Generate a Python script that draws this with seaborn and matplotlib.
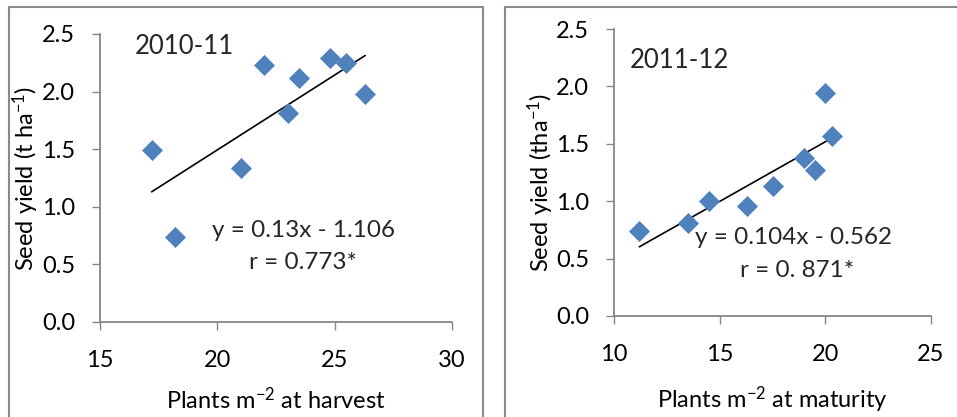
import matplotlib
matplotlib.use("Agg")
import matplotlib.pyplot as plt
from matplotlib.lines import Line2D
import numpy as np
import pandas as pd
import seaborn as sns

# ---- data ----
x_2010 = [17.2, 18.2, 21.0, 22.0, 23.0, 23.5, 24.8, 25.5, 26.3]
y_2010 = [1.49, 0.74, 1.34, 2.23, 1.81, 2.12, 2.29, 2.25, 1.98]
x_2011 = [11.2, 13.5, 14.5, 16.3, 17.5, 19.0, 19.5, 20.0, 20.3]
y_2011 = [0.74, 0.81, 1.00, 0.96, 1.13, 1.38, 1.27, 1.94, 1.57]
slopes = [0.13, 0.104]
intercepts = [-1.106, -0.562]
titles = ["2010-11", "2011-12"]
eq_texts = ["y = 0.13x - 1.106", "y = 0.104x - 0.562"]
r_texts = ["r = 0.773*", "r = 0. 871*"]
xlabels = ["Plants m$^{\\mathregular{-2}}$ at harvest", "Plants m$^{\\mathregular{-2}}$ at maturity"]
ylabels = ["Seed yield (t ha$^{\\mathregular{-1}}$)", "Seed yield (tha$^{\\mathregular{-1}}$)"]
xticks_list = [[15, 20, 25, 30], [10, 15, 20, 25]]
yticks = [0.0, 0.5, 1.0, 1.5, 2.0, 2.5]

sns.set_theme(style="white")
plt.rcParams["font.family"] = ["Lato", "DejaVu Sans"]
plt.rcParams["mathtext.fontset"] = "custom"
plt.rcParams["mathtext.rm"] = "Lato"
plt.rcParams["mathtext.it"] = "Lato:italic"
plt.rcParams["mathtext.bf"] = "Lato:bold"

W, H = 957, 417
fig = plt.figure(figsize=(W / 100, H / 100), dpi=100)
fig.patch.set_facecolor("white")

def fx(px):
    return px / W

def fy(py):
    return 1 - py / H

# panel borders
bc = "#8a8a8a"
blw = 1.5
for seg in [((8.5, 8.5), (7, 420)), ((8.5, 482.5), (7, 7)), ((482.5, 482.5), (7, 420)),
            ((505, 505), (7, 420)), ((505, 960), (7, 7))]:
    fig.add_artist(Line2D([fx(v) for v in seg[0]], [fy(v) for v in seg[1]],
                          color=bc, lw=blw, transform=fig.transFigure))

axes_rects = [
    [fx(100), fy(322), fx(452) - fx(100), fy(34) - fy(322)],
    [fx(614), fy(316), fx(931) - fx(614), fy(29) - fy(316)],
]
data = [(x_2010, y_2010), (x_2011, y_2011)]
title_pos = [(0.239, 0.955), (0.205, 0.889)]
eq_pos = [(0.577, 0.319), (0.565, 0.272)]
r_pos = [(0.577, 0.208), (0.577, 0.157)]
ylab_pos = [(-0.212, 0.497), (-0.232, 0.467)]
xlab_pos = [(0.5, -0.271), (0.498, -0.293)]

axc = "#868686"
for i in range(2):
    ax = fig.add_axes(axes_rects[i])
    xs, ys = data[i]
    df = pd.DataFrame({"x": xs, "y": ys})
    sns.scatterplot(data=df, x="x", y="y", ax=ax, marker="D", s=115,
                    color="#4F81BD", edgecolor="#4F81BD", linewidth=0, zorder=3)
    xl = np.array([min(xs), max(xs)])
    sns.lineplot(x=xl, y=slopes[i] * xl + intercepts[i], ax=ax, color="black", lw=1.2, zorder=2)
    xt = xticks_list[i]
    ax.set_xlim(xt[0], xt[-1])
    ax.set_ylim(0, 2.5)
    ax.set_xticks(xt)
    ax.set_xticklabels([str(v) for v in xt])
    ax.set_yticks(yticks)
    ax.set_yticklabels([f"{v:.1f}" for v in yticks])
    for s in ["top", "right"]:
        ax.spines[s].set_visible(False)
    for s in ["left", "bottom"]:
        ax.spines[s].set_color(axc)
        ax.spines[s].set_linewidth(1.3)
    ax.tick_params(axis="both", which="major", direction="out", length=5.8, width=1.0,
                   color=axc, labelsize=17, labelcolor="black", left=True, bottom=True)
    ax.tick_params(axis="y", pad=12)
    ax.tick_params(axis="x", pad=14.5)
    ax.set_facecolor("white")
    ax.grid(False)
    ax.set_xlabel(xlabels[i], fontsize=17, color="black")
    ax.set_ylabel(ylabels[i], fontsize=17, color="black")
    ax.xaxis.label.set_va("center")
    ax.yaxis.label.set_va("center")
    ax.xaxis.set_label_coords(*xlab_pos[i])
    ax.yaxis.set_label_coords(*ylab_pos[i])
    ax.text(*title_pos[i], titles[i], transform=ax.transAxes, ha="center", va="center", fontsize=18.5)
    ax.text(*eq_pos[i], eq_texts[i], transform=ax.transAxes, ha="center", va="center", fontsize=17.5)
    ax.text(*r_pos[i], r_texts[i], transform=ax.transAxes, ha="center", va="center", fontsize=17.5)
    ax.set_zorder(1)
    ax.patch.set_alpha(0)

fig.savefig("out.png", dpi=100, facecolor="white")
